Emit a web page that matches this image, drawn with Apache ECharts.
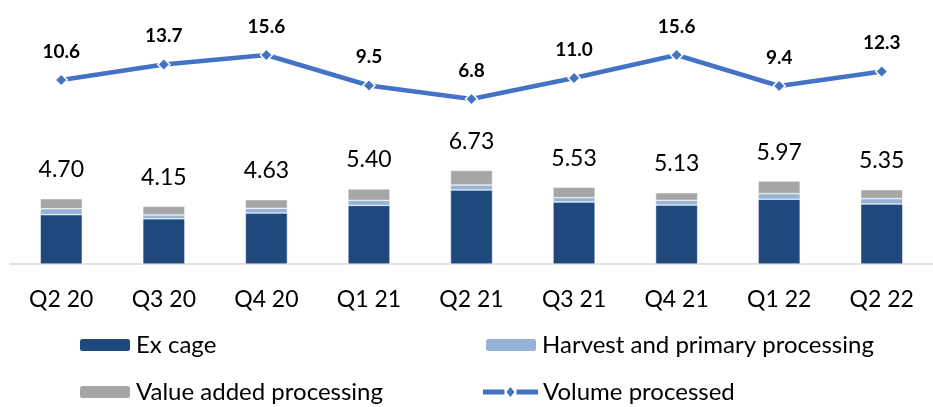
<!DOCTYPE html>
<html>
<head>
<meta charset="utf-8">
<script src="https://cdn.jsdelivr.net/npm/echarts@6/dist/echarts.min.js"></script>
<style>
html,body{margin:0;padding:0;background:#fff;}
#chart{width:933px;height:407px;}
</style>
</head>
<body>
<div id="chart"></div>
<script>
var categories = ['Q2 20','Q3 20','Q4 20','Q1 21','Q2 21','Q3 21','Q4 21','Q1 22','Q2 22'];
var exCage     = [3.55,3.25,3.67,4.22,5.33,4.46,4.24,4.67,4.32];
var harvest    = [0.43,0.28,0.34,0.36,0.36,0.32,0.34,0.40,0.39];
var valueAdded = [0.72,0.62,0.62,0.82,1.04,0.75,0.55,0.90,0.64];
var totals     = [4.70,4.15,4.63,5.40,6.73,5.53,5.13,5.97,5.35];
var volume     = [10.6,13.7,15.6,9.5,6.8,11.0,15.6,9.4,12.3];

var FONT = 'Lato';
var chart = echarts.init(document.getElementById('chart'), null, {renderer:'canvas'});

function legendAt(name, left, top, w, extra) {
  var l = {
    data: [name], left: left, top: top, padding: 0,
    itemWidth: w, itemHeight: 14, itemGap: 0,
    textStyle: {fontFamily: FONT, fontSize: 24, color: '#000', lineHeight: 24}
  };
  if (extra) { for (var k in extra) l[k] = extra[k]; }
  return l;
}

var lineIcon = 'path://M0,2.5H21.5V7.5H0Z M33.5,2.5H55V7.5H33.5Z M27.5,0L31.5,5L27.5,10L23.5,5Z';

chart.setOption({
  animation: false,
  textStyle: {fontFamily: FONT},
  grid: {left: 10, width: 932, top: 14, bottom: 143},
  legend: [
    legendAt('Ex cage', 78, 333, 52),
    legendAt('Harvest and primary processing', 484, 333, 52),
    legendAt('Value added processing', 78, 380, 52),
    legendAt('Volume processed', 483, 380, 55, {
      data: [{name: 'Volume processed', icon: lineIcon}],
      itemHeight: 10,
      itemStyle: {color: '#4472C4', borderWidth: 0},
      lineStyle: {width: 0}
    })
  ],
  xAxis: {
    type: 'category', data: categories,
    axisLine: {show: true, lineStyle: {color: '#D9D9D9', width: 1.5}},
    axisTick: {show: false},
    axisLabel: {fontFamily: FONT, fontSize: 23, color: '#000', margin: 24}
  },
  yAxis: [
    {type: 'value', min: 0, max: 18, show: false, splitLine: {show: false}},
    {type: 'value', min: -26.2, max: 23.8, show: false, splitLine: {show: false}}
  ],
  series: [
    {name: 'Ex cage', type: 'bar', stack: 't', data: exCage, barWidth: 42,
     itemStyle: {color: '#1F497D', borderColor: '#fff', borderWidth: 0.5}},
    {name: 'Harvest and primary processing', type: 'bar', stack: 't', data: harvest, barWidth: 42,
     itemStyle: {color: '#95B3D7', borderColor: '#fff', borderWidth: 0.5}},
    {name: 'Value added processing', type: 'bar', stack: 't', data: valueAdded, barWidth: 42,
     itemStyle: {color: '#A6A6A6', borderColor: '#fff', borderWidth: 0.5}},
    {name: 'totals', type: 'scatter', data: totals, symbolSize: 1,
     itemStyle: {color: 'rgba(0,0,0,0)', opacity: 1}, silent: true,
     label: {show: true, position: 'top', distance: 17, fontFamily: FONT, fontSize: 23,
             lineHeight: 23, color: '#000', opacity: 1,
             formatter: function(p){ return p.value.toFixed(2); }}},
    {name: 'Volume processed', type: 'line', yAxisIndex: 1, data: volume,
     symbol: 'diamond', symbolSize: 12,
     lineStyle: {color: '#4472C4', width: 4.5},
     itemStyle: {color: '#4472C4', borderColor: '#fff', borderWidth: 1.5},
     label: {show: true, position: 'top', distance: 12, fontFamily: FONT, fontSize: 19,
             fontWeight: 'bold', lineHeight: 19, color: '#000',
             formatter: function(p){ return p.value.toFixed(1); }}}
  ]
});
</script>
</body>
</html>
